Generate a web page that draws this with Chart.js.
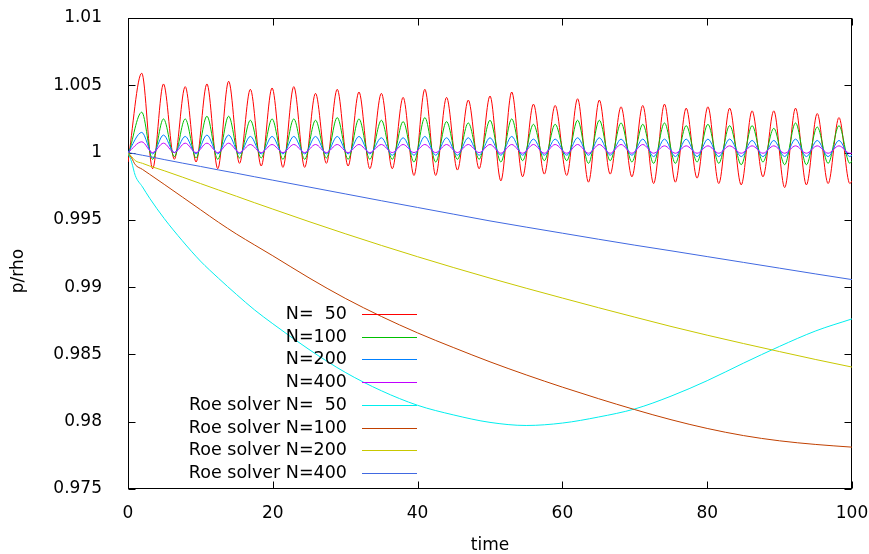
<!DOCTYPE html>
<html>
<head>
<meta charset="utf-8">
<script src="https://cdn.jsdelivr.net/npm/chart.js@4"></script>
<style>html,body{margin:0;padding:0;background:#fff}canvas{display:block}</style>
</head>
<body>
<canvas id="c" width="869" height="554"></canvas>
<script>
// ---------- data ----------
const seriesLabels = ['N=  50', 'N=100', 'N=200', 'N=400',
  'Roe solver N=  50', 'Roe solver N=100', 'Roe solver N=200', 'Roe solver N=400'];
const seriesColors = ['#ff0000', '#00c000', '#0080ff', '#c000ff',
  '#00eeee', '#c04000', '#c8c800', '#4169e1'];

const xTicks = [0, 20, 40, 60, 80, 100];
const yTicks = [0.975, 0.98, 0.985, 0.99, 0.995, 1, 1.005, 1.01];
const yTickLabels = ['0.975', '0.98', '0.985', '0.99', '0.995', '1', '1.005', '1.01'];
const xTitle = 'time';
const yTitle = 'p/rho';

// oscillating runs: times of maxima / minima, plus start (t=0) and end (t=100)
const oscEdgeTimes = [0, 100];
const peakTimes = [1.9, 4.9, 7.9, 10.9, 13.9, 16.9, 19.9, 22.9, 25.9, 28.9, 31.9, 35.0, 38.0, 41.0, 44.0,
  47.0, 50.0, 53.0, 56.0, 59.0, 62.1, 65.1, 68.1, 71.1, 74.1, 77.1, 80.1, 83.1, 86.2, 89.2, 92.2, 95.2, 98.2];
const troughTimes = [3.4, 6.4, 9.4, 12.4, 15.4, 18.4, 21.4, 24.4, 27.4, 30.4, 33.4, 36.5, 39.5, 42.5, 45.5,
  48.5, 51.5, 54.5, 57.5, 60.6, 63.6, 66.6, 69.6, 72.6, 75.6, 78.6, 81.6, 84.7, 87.7, 90.7, 93.7, 96.7, 99.7];

const n50Edges = [0.9993, 0.9979];
const n50Peaks = [1.0059, 1.0051, 1.0049, 1.0051, 1.0053, 1.0047, 1.0048, 1.0049, 1.0044, 1.0047, 1.0045,
  1.0044, 1.0041, 1.0047, 1.0041, 1.0039, 1.0042, 1.0045, 1.0036, 1.0035, 1.0040, 1.0039, 1.0034, 1.0035,
  1.0036, 1.0033, 1.0034, 1.0033, 1.0031, 1.0031, 1.0033, 1.0029, 1.0026];
const n50Troughs = [0.9988, 0.9995, 0.9993, 0.9988, 0.9992, 0.9990, 0.9989, 0.9989, 0.9992, 0.9990, 0.9988,
  0.9988, 0.9983, 0.9983, 0.9987, 0.9988, 0.9979, 0.9982, 0.9984, 0.9983, 0.9978, 0.9984, 0.9982, 0.9977,
  0.9978, 0.9981, 0.9977, 0.9976, 0.9982, 0.9974, 0.9976, 0.9977, 0.9977];

const n100Edges = [0.9997, 0.9994];
const n100Peaks = [1.0030, 1.0025, 1.0025, 1.0027, 1.0027, 1.0024, 1.0025, 1.0025, 1.0024, 1.0026, 1.0025,
  1.0024, 1.0023, 1.0026, 1.0023, 1.0022, 1.0024, 1.0025, 1.0021, 1.0021, 1.0024, 1.0024, 1.0022, 1.0021,
  1.0022, 1.0020, 1.0021, 1.0020, 1.0020, 1.0018, 1.0022, 1.0019, 1.0020];
const n100Troughs = [0.9995, 0.9997, 0.9996, 0.9995, 0.9996, 0.9996, 0.9995, 0.9995, 0.9996, 0.9995, 0.9995,
  0.9995, 0.9993, 0.9993, 0.9995, 0.9995, 0.9993, 0.9994, 0.9994, 0.9994, 0.9992, 0.9994, 0.9993, 0.9992,
  0.9992, 0.9993, 0.9992, 0.9991, 0.9993, 0.9991, 0.9991, 0.9992, 0.9992];

const n200Edges = [1.0000, 0.9998];
const n200Peaks = [1.0015, 1.0013, 1.0012, 1.0013, 1.0013, 1.0012, 1.0012, 1.0012, 1.0012, 1.0012, 1.0012,
  1.0011, 1.0011, 1.0012, 1.0011, 1.0011, 1.0011, 1.0012, 1.0010, 1.0010, 1.0011, 1.0011, 1.0010, 1.0010,
  1.0010, 1.0010, 1.0010, 1.0010, 1.0009, 1.0009, 1.0010, 1.0009, 1.0009];
const n200Troughs = [0.9999, 1.0000, 0.9999, 0.9999, 0.9999, 0.9999, 0.9999, 0.9999, 0.9999, 0.9999, 0.9999,
  0.9998, 0.9998, 0.9998, 0.9998, 0.9998, 0.9998, 0.9998, 0.9998, 0.9998, 0.9998, 0.9998, 0.9998, 0.9997,
  0.9997, 0.9997, 0.9997, 0.9997, 0.9997, 0.9997, 0.9997, 0.9997, 0.9997];

const n400Edges = [1.0000, 0.99995];
const n400Peaks = [1.0008, 1.0007, 1.0007, 1.0007, 1.0007, 1.0006, 1.0006, 1.0006, 1.0006, 1.0006, 1.0006,
  1.0006, 1.0006, 1.0006, 1.0006, 1.0006, 1.0006, 1.0006, 1.0006, 1.0006, 1.0006, 1.0006, 1.0006, 1.0006,
  1.0005, 1.0005, 1.0005, 1.0005, 1.0005, 1.0005, 1.0005, 1.0005, 1.0005];
const n400Troughs = [1.0000, 1.0000, 1.0000, 1.0000, 1.0000, 1.0000, 1.0000, 1.0000, 1.0000, 1.0000, 1.0000,
  1.0000, 1.0000, 1.0000, 1.0000, 1.0000, 0.99995, 0.99995, 0.99995, 0.99995, 0.99995, 0.99995, 0.99995,
  0.99995, 0.99995, 0.99995, 0.99995, 0.99995, 0.99995, 0.99995, 0.99995, 0.99995, 0.99995];

// smooth Roe-solver runs
const roeTime = [0, 0.5, 1, 2, 3, 5, 7.5, 10, 12.5, 15, 17.5, 20, 25, 30, 35, 40, 45, 50, 55, 60, 65, 70,
  75, 80, 85, 90, 95, 100];
const roe50 = [1.0000, 0.9993, 0.9983, 0.99745, 0.9966, 0.9951, 0.99345, 0.99194, 0.99066, 0.98945, 0.9883,
  0.98728, 0.98537, 0.98367, 0.9823, 0.98122, 0.9805, 0.97995, 0.97972, 0.9799, 0.98035, 0.98095,
  0.9819, 0.98305, 0.98435, 0.9856, 0.98675, 0.98764];
const roe100 = [1.0000, 0.9996, 0.9991, 0.99875, 0.99838, 0.99764, 0.9967, 0.99576, 0.99482, 0.99394, 0.99313,
  0.99233, 0.99069, 0.98917, 0.98782, 0.9866, 0.9855, 0.98445, 0.98348, 0.98257, 0.98171, 0.9809,
  0.98015, 0.9795, 0.97897, 0.97858, 0.97831, 0.97811];
const roe200 = [1.0000, 0.9997, 0.9994, 0.9992, 0.999, 0.99865, 0.99818, 0.9977, 0.99722, 0.99675, 0.99627,
  0.9958, 0.99487, 0.99397, 0.9931, 0.99226, 0.99145, 0.99067, 0.98992, 0.98919, 0.98847, 0.98777,
  0.98708, 0.98643, 0.98581, 0.98521, 0.98462, 0.98406];
const roe400 = [1.0000, 0.99995, 0.9999, 0.9998, 0.9997, 0.99948, 0.99922, 0.99897, 0.99871, 0.99846,
  0.9982, 0.99795, 0.99744, 0.99693, 0.99642, 0.99592, 0.99542, 0.99492, 0.99446, 0.99401, 0.99356,
  0.99312, 0.9927, 0.99227, 0.99184, 0.99141, 0.99098, 0.99056];

// ---------- build datasets ----------
function oscPoints(peaks, troughs, edges) {
  const pts = [{x: oscEdgeTimes[0], y: edges[0]}];
  for (let i = 0; i < peakTimes.length; i++) {
    pts.push({x: peakTimes[i], y: peaks[i]});
    pts.push({x: troughTimes[i], y: troughs[i]});
  }
  pts.push({x: oscEdgeTimes[1], y: edges[1]});
  return pts;
}
function roePoints(vals) { return roeTime.map((t, i) => ({x: t, y: vals[i]})); }

const seriesData = [
  oscPoints(n50Peaks, n50Troughs, n50Edges),
  oscPoints(n100Peaks, n100Troughs, n100Edges),
  oscPoints(n200Peaks, n200Troughs, n200Edges),
  oscPoints(n400Peaks, n400Troughs, n400Edges),
  roePoints(roe50), roePoints(roe100), roePoints(roe200), roePoints(roe400)
];

const datasets = seriesData.map((d, i) => ({
  label: seriesLabels[i],
  data: d,
  borderColor: seriesColors[i],
  backgroundColor: seriesColors[i],
  borderWidth: 1,
  pointRadius: 0,
  fill: false,
  cubicInterpolationMode: 'monotone',
  order: seriesLabels.length - i
}));

// ---------- plugins ----------
const framePlugin = {
  id: 'frame',
  beforeDatasetsDraw(chart) {
    const {ctx, chartArea: a, scales: {x, y}} = chart;
    const L = Math.round(a.left) + 0.5, R = Math.round(a.right) - 0.5;
    const T = Math.round(a.top) + 0.5, B = Math.round(a.bottom) - 0.5;
    const tl = 7;
    ctx.save();
    ctx.strokeStyle = '#000';
    ctx.lineWidth = 1;
    ctx.beginPath();
    yTicks.forEach(v => {
      const py = Math.round(y.getPixelForValue(v)) + 0.5;
      ctx.moveTo(L, py); ctx.lineTo(L + tl, py);
      ctx.moveTo(R, py); ctx.lineTo(R - tl, py);
    });
    xTicks.forEach(v => {
      const px = Math.round(x.getPixelForValue(v)) + 0.5;
      ctx.moveTo(px, B); ctx.lineTo(px, B - tl);
      ctx.moveTo(px, T); ctx.lineTo(px, T + tl);
    });
    ctx.stroke();
    ctx.strokeRect(L, T, R - L, B - T);
    ctx.restore();
  }
};

const keyPlugin = {
  id: 'gnukey',
  afterDatasetsDraw(chart) {
    const {ctx, chartArea: a} = chart;
    const textRight = a.left + 219;
    const lineStart = a.left + 234, lineEnd = a.left + 289;
    const top = a.top + 296, step = 22.7;
    ctx.save();
    ctx.font = "17.5px 'DejaVu Sans', sans-serif";
    ctx.textAlign = 'right';
    ctx.textBaseline = 'middle';
    seriesLabels.forEach((lab, i) => {
      const yy = Math.round(top + i * step) + 0.5;
      ctx.fillStyle = '#000';
      ctx.fillText(lab, textRight, yy);
      ctx.beginPath();
      ctx.strokeStyle = seriesColors[i];
      ctx.lineWidth = 1;
      ctx.moveTo(lineStart, yy);
      ctx.lineTo(lineEnd, yy);
      ctx.stroke();
    });
    ctx.restore();
  }
};

const yTitlePlugin = {
  id: 'ytitle',
  afterDraw(chart) {
    const {ctx} = chart;
    ctx.save();
    ctx.font = "17px 'DejaVu Sans', sans-serif";
    ctx.fillStyle = '#000';
    ctx.textAlign = 'center';
    ctx.textBaseline = 'middle';
    ctx.translate(19, 271);
    ctx.rotate(-Math.PI / 2);
    ctx.fillText(yTitle, 0, 0);
    ctx.restore();
  }
};

// ---------- chart ----------
Chart.defaults.font.family = "'DejaVu Sans', sans-serif";
Chart.defaults.font.size = 17;
Chart.defaults.color = '#000';

new Chart(document.getElementById('c'), {
  type: 'line',
  data: {datasets},
  options: {
    responsive: false,
    animation: false,
    devicePixelRatio: 1,
    layout: {padding: {top: 18, right: 17, left: 0, bottom: 0}},
    plugins: {legend: {display: false}, tooltip: {enabled: false}},
    scales: {
      x: {
        type: 'linear', min: 0, max: 100,
        afterBuildTicks: s => { s.ticks = xTicks.map(v => ({value: v})); },
        ticks: {padding: 6, maxRotation: 0, autoSkip: false, callback: v => String(v)},
        grid: {display: false}, border: {display: false},
        title: {display: true, text: xTitle, padding: {top: 0, bottom: 0}, font: {lineHeight: 1}},
        afterFit: s => { s.height = 65; s.paddingLeft = 0; s.paddingRight = 0; }
      },
      y: {
        type: 'linear', min: 0.975, max: 1.01,
        afterBuildTicks: s => { s.ticks = yTicks.map(v => ({value: v})); },
        ticks: {padding: 18, autoSkip: false, callback: (v, i) => yTickLabels[i]},
        grid: {display: false}, border: {display: false},
        afterFit: s => { s.width = 128; s.paddingTop = 0; s.paddingBottom = 0; }
      }
    }
  },
  plugins: [framePlugin, keyPlugin, yTitlePlugin]
});
</script>
</body>
</html>
